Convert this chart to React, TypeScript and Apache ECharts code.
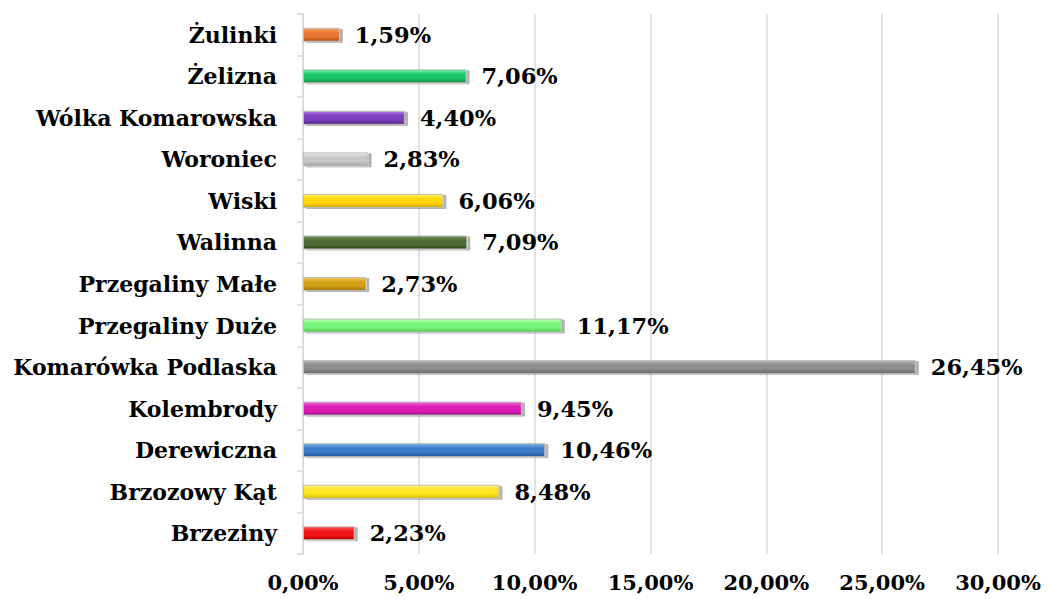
import React, { useEffect, useRef } from "react";
import * as echarts from "echarts";

const categories = [
  "Brzeziny",
  "Brzozowy Kąt",
  "Derewiczna",
  "Kolembrody",
  "Komarówka Podlaska",
  "Przegaliny Duże",
  "Przegaliny Małe",
  "Walinna",
  "Wiski",
  "Woroniec",
  "Wólka Komarowska",
  "Żelizna",
  "Żulinki",
];
const values = [2.23, 8.48, 10.46, 9.45, 26.45, 11.17, 2.73, 7.09, 6.06, 2.83, 4.4, 7.06, 1.59];
const colors = [
  ["#ff5a5a", "#f01414", "#b80000"],
  ["#fff27a", "#ffe620", "#d9b800"],
  ["#7fb2ec", "#3a7cc8", "#23558f"],
  ["#f06bd6", "#dd1fb5", "#a3108a"],
  ["#b5b5b5", "#8c8c8c", "#666666"],
  ["#b5ffb5", "#7cf57c", "#4fc94f"],
  ["#f0c75a", "#d4a017", "#9c7408"],
  ["#7a9660", "#4a6a30", "#2f461c"],
  ["#fff066", "#ffd700", "#d1a800"],
  ["#e6e6e6", "#c8c8c8", "#a0a0a0"],
  ["#b07ae6", "#7b3fbf", "#55268a"],
  ["#6ff0a6", "#1dc46a", "#0e8a48"],
  ["#ffa66b", "#e87530", "#b0501a"],
];
const xTicks = [0, 5, 10, 15, 20, 25, 30];

const fmt = (v: number) => v.toFixed(2).replace(".", ",") + "%";
const FONT = "'DejaVu Serif', 'Liberation Serif', serif";

export default function App() {
  const ref = useRef<HTMLDivElement>(null);
  useEffect(() => {
    if (!ref.current) return;
    const chart = echarts.init(ref.current, undefined, { renderer: "svg" });
    chart.setOption({
      animation: false,
      grid: { left: 303, right: 50, top: 14, bottom: 45, containLabel: false },
      xAxis: {
        type: "value",
        min: xTicks[0],
        max: xTicks[xTicks.length - 1],
        interval: 5,
        axisLine: { show: false },
        axisTick: { show: false },
        splitLine: { show: true, lineStyle: { color: "#d9d9d9", width: 1.5 } },
        axisLabel: {
          formatter: (v: number) => fmt(v),
          fontFamily: FONT,
          fontWeight: "bold",
          fontSize: 21,
          color: "#000",
          margin: 18,
        },
      },
      yAxis: {
        type: "category",
        data: categories,
        axisLine: { show: true, lineStyle: { color: "#d9d9d9", width: 1.5 } },
        axisTick: { show: true, length: 6, lineStyle: { color: "#d9d9d9", width: 1.5 } },
        axisLabel: {
          fontFamily: FONT,
          fontWeight: "bold",
          fontSize: 22,
          color: "#000",
          margin: 26,
        },
      },
      series: [
        {
          type: "bar",
          barWidth: 14,
          data: values.map((v, i) => ({
            value: v,
            itemStyle: {
              color: new echarts.graphic.LinearGradient(0, 0, 0, 1, [
                { offset: 0, color: colors[i][0] },
                { offset: 0.35, color: colors[i][1] },
                { offset: 0.65, color: colors[i][1] },
                { offset: 1, color: colors[i][2] },
              ]),
              borderColor: "#bdbdbd",
              borderWidth: 1,
              shadowColor: "rgba(0,0,0,0.3)",
              shadowOffsetX: 3,
              shadowOffsetY: 1,
              shadowBlur: 0,
            },
          })),
          label: {
            show: true,
            position: "right",
            distance: 15,
            formatter: (p: any) => fmt(p.value),
            fontFamily: FONT,
            fontWeight: "bold",
            fontSize: 22.5,
            color: "#000",
          },
        },
      ],
    });
    return () => chart.dispose();
  }, []);
  return (
    <div
      ref={ref}
      style={{ position: "fixed", left: 0, top: 0, width: 1048, height: 599, background: "#fff" }}
    />
  );
}
